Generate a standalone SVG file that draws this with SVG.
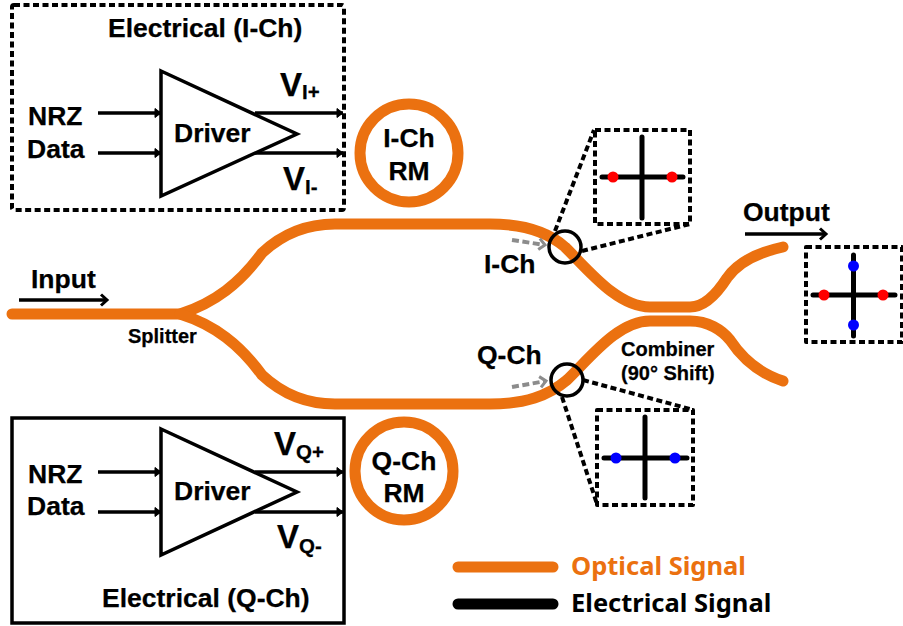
<svg xmlns="http://www.w3.org/2000/svg" width="903" height="626" viewBox="0 0 903 626">
<style>
text{font-family:"Liberation Sans",Arial,sans-serif;font-weight:700;fill:#000;stroke:#000;stroke-width:.25}
.t26{font-size:26.500px}.t20{font-size:20px}.v{font-size:33px}.s{font-size:20.500px}
.leg{font-family:"Noto Sans","Open Sans",sans-serif;font-size:25.500px;stroke:none}
.opt{fill:none;stroke:#eb7110;stroke-width:11;stroke-linecap:round}
.wire{fill:none;stroke:#000;stroke-width:3.500}
.dash{fill:none;stroke:#000;stroke-width:4;stroke-dasharray:6 3.500;stroke-linejoin:round}
.tri{fill:#fff;stroke:#000;stroke-width:3.500}
.cross{stroke:#000;stroke-width:5;stroke-linecap:round;fill:none}
.mark{fill:none;stroke:#000;stroke-width:3.500}
.gr{fill:none;stroke:#8c8c8c;stroke-width:4}
</style>
<defs>
<marker id="a" markerUnits="userSpaceOnUse" markerWidth="12" markerHeight="12" refX="10" refY="6" orient="auto"><path d="M4 1.500L10 6L4 10.500Z" fill="#000" stroke="#000" stroke-width="1"/></marker>
<marker id="o" markerUnits="userSpaceOnUse" markerWidth="12" markerHeight="14" refX="9" refY="7" orient="auto"><path d="M3 1.500L9 7L3 12.500" fill="none" stroke="#000" stroke-width="3"/></marker>
<marker id="g" markerUnits="userSpaceOnUse" markerWidth="12" markerHeight="14" refX="9" refY="7" orient="auto"><path d="M3 1.500L9 7L3 12.500" fill="none" stroke="#8c8c8c" stroke-width="3"/></marker>
</defs>
<g id="connectors">
<path class="opt" d="M12 314H180C215 303 240 283 262 253C278 238 300 224 335 224H490C525 224 548 232 565 247C590 272 618 307 650 307H690C705 307 718 292 727 278C738 262 760 252 783 247"/>
<path class="opt" d="M180 314C215 325 240 345 262 375C278 390 300 404 335 404H490C525 404 548 396 567 380C590 358 618 321 650 321H690C708 321 722 330 730 340C742 358 758 373 783 381"/>
<path class="wire" marker-end="url(#o)" d="M19 300H107"/>
<path class="wire" marker-end="url(#o)" d="M745 234H826"/>
<path class="gr" stroke-dasharray="7 3.500" marker-end="url(#g)" d="M512 240L545 245"/>
<path class="gr" stroke-dasharray="7 3.500" marker-end="url(#g)" d="M512 387L546 381"/>
<path class="dash" d="M555 231L594 130M582 251L690 224M583 380L690 409M562 397L597 504"/>
</g>
<g id="electrical-i">
<rect class="dash" x="12" y="5" width="332" height="205" rx="2"/>
<text class="t26" x="108" y="37">Electrical (I-Ch)</text>
<path class="wire" marker-end="url(#a)" d="M98 113H161"/>
<path class="wire" marker-end="url(#a)" d="M98 153H161"/>
<path class="wire" marker-end="url(#a)" d="M255 113H343"/>
<path class="wire" marker-end="url(#a)" d="M255 153H343"/>
<path class="tri" d="M161 71L297 134L161 196Z"/>
<text class="t26" x="28" y="125">NRZ</text><text class="t26" x="27" y="158">Data</text>
<text class="t26" x="174" y="142">Driver</text>
<text class="v" x="280" y="96">V</text><text class="s" x="302" y="99">I+</text>
<text class="v" x="283" y="190">V</text><text class="s" x="305" y="194">I-</text>
</g>
<g id="electrical-q">
<rect x="12" y="418" width="332" height="205" fill="none" stroke="#000" stroke-width="3.500"/>
<text class="t26" x="102" y="607">Electrical (Q-Ch)</text>
<path class="wire" marker-end="url(#a)" d="M98 472H161"/>
<path class="wire" marker-end="url(#a)" d="M98 512H161"/>
<path class="wire" marker-end="url(#a)" d="M255 472H343"/>
<path class="wire" marker-end="url(#a)" d="M255 512H343"/>
<path class="tri" d="M161 429L297 492L161 555Z"/>
<text class="t26" x="28" y="483">NRZ</text><text class="t26" x="27" y="515">Data</text>
<text class="t26" x="174" y="500">Driver</text>
<text class="v" x="274" y="455">V</text><text class="s" x="296" y="459">Q+</text>
<text class="v" x="277" y="548">V</text><text class="s" x="299" y="553">Q-</text>
</g>
<g id="ring-i"><circle cx="409" cy="153" r="49" fill="none" stroke="#eb7110" stroke-width="11"/>
<text class="t26" x="409" y="147" text-anchor="middle">I-Ch</text><text class="t26" x="409" y="180" text-anchor="middle">RM</text></g>
<g id="ring-q"><circle cx="404" cy="471" r="49" fill="none" stroke="#eb7110" stroke-width="11"/>
<text class="t26" x="404" y="470" text-anchor="middle">Q-Ch</text><text class="t26" x="404" y="502" text-anchor="middle">RM</text></g>
<g id="labels">
<text class="t26" x="31" y="288">Input</text>
<text class="t20" x="128" y="343">Splitter</text>
<text class="t26" x="743" y="221">Output</text>
<text class="t26" x="484" y="273">I-Ch</text>
<text class="t26" x="477" y="364">Q-Ch</text>
<text class="t20" x="621" y="356">Combiner</text>
<text class="t20" x="621" y="380">(90° Shift)</text>
</g>
<g id="tap-i"><circle class="mark" cx="565" cy="247" r="16"/></g>
<g id="tap-q"><circle class="mark" cx="567" cy="380" r="16"/></g>
<g id="inset-i">
<rect class="dash" x="595" y="130" width="95" height="94"/>
<path class="cross" d="M602 177H683M642 137V218"/>
<circle cx="613" cy="177" r="5.500" fill="#f00"/><circle cx="672" cy="177" r="5.500" fill="#f00"/>
</g>
<g id="inset-q">
<rect class="dash" x="597" y="410" width="96" height="95"/>
<path class="cross" d="M604 458H687M645 417V498"/>
<circle cx="616" cy="458" r="5.500" fill="#00f"/><circle cx="675" cy="458" r="5.500" fill="#00f"/>
</g>
<g id="inset-out">
<rect class="dash" x="806" y="247" width="96" height="95"/>
<path class="cross" d="M813 295H895M853.500 255V336"/>
<circle cx="824" cy="295" r="5.500" fill="#f00"/><circle cx="883" cy="295" r="5.500" fill="#f00"/>
<circle cx="853.500" cy="266" r="5.500" fill="#00f"/><circle cx="853.500" cy="325" r="5.500" fill="#00f"/>
</g>
<g id="legend">
<path class="opt" d="M458 567H553"/>
<path d="M458 604H553" fill="none" stroke="#000" stroke-width="11" stroke-linecap="round"/>
<text class="leg" x="571" y="575" style="fill:#eb7110">Optical Signal</text>
<text class="leg" x="571" y="612">Electrical Signal</text>
</g>
</svg>
